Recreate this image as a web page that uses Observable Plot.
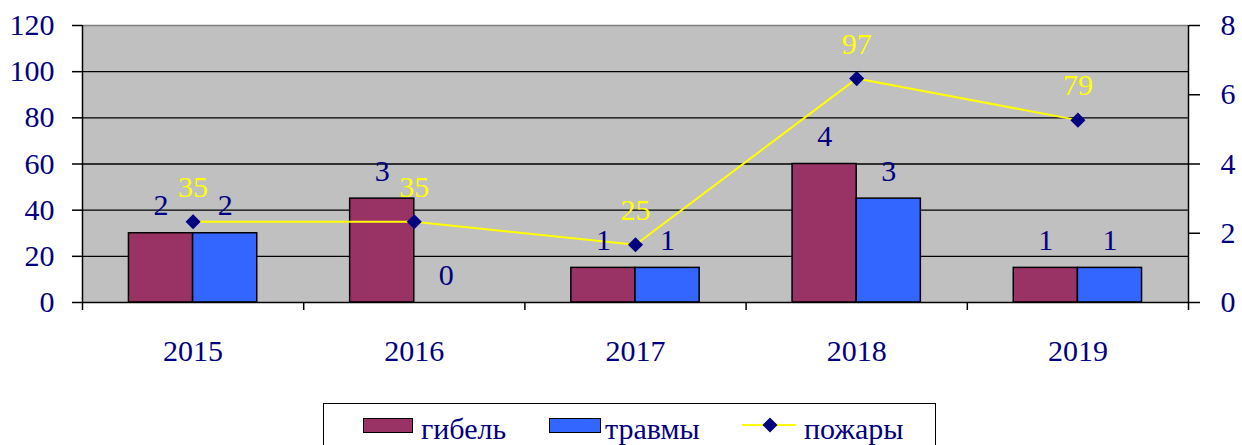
<!DOCTYPE html>
<html>
<head>
<meta charset="utf-8">
<script src="https://cdn.jsdelivr.net/npm/d3@7"></script>
<script src="https://cdn.jsdelivr.net/npm/@observablehq/plot@0.6"></script>
<style>
  html, body { margin: 0; padding: 0; background: #fff; }
  #wrap { position: relative; width: 1242px; height: 445px; overflow: hidden; font-family: "Liberation Serif", "DejaVu Serif", "Times New Roman", serif; }
  #wrap svg text { font-family: "Liberation Serif", "DejaVu Serif", "Times New Roman", serif; }
  #legend { position: absolute; left: 323px; top: 403px; width: 613px; height: 70px; border: 1px solid #000; box-sizing: border-box; }
  .sw { position: absolute; box-sizing: border-box; border: 1.5px solid #000; }
  .lt { position: absolute; font-size: 30px; line-height: 30px; color: #000080; white-space: nowrap; }
</style>
</head>
<body>
<div id="wrap"></div>
<script>
// ---- data ----
const years = ["2015", "2016", "2017", "2018", "2019"];
const deaths = [2, 3, 1, 4, 1];        // гибель (right axis)
const injuries = [2, 0, 1, 3, 1];      // травмы (right axis)
const fires = [35, 35, 25, 97, 79];    // пожары (left axis)
const leftTicks = [0, 20, 40, 60, 80, 100, 120];
const rightTicks = [0, 2, 4, 6, 8];
const seriesNames = ["гибель", "травмы", "пожары"];
const seriesColors = ["#993366", "#3366FF", "#FFFF00"];

// right-axis values are drawn on the shared y scale (0–120 ≙ 0–8)
const K = 120 / 8;
const NAVY = "#000080";
const FONT = "'Liberation Serif', 'DejaVu Serif', 'Times New Roman', serif";

const deathRows = years.map((y, i) => ({i, v: deaths[i]}));
const injuryRows = years.map((y, i) => ({i, v: injuries[i]}));
const fireRows = years.map((y, i) => ({i, v: fires[i]}));

const chart = Plot.plot({
  width: 1242,
  height: 400,
  marginTop: 25,
  marginLeft: 82,
  marginRight: 54,
  marginBottom: 98,
  style: {fontFamily: FONT, fontSize: "30px", background: "transparent", overflow: "visible"},
  x: {type: "linear", domain: [0, years.length], axis: null},
  y: {domain: [0, 120], axis: null},
  marks: [
    Plot.frame({fill: "#C0C0C0", stroke: "none"}),
    Plot.ruleY(leftTicks.filter(t => t > 0 && t < 120), {stroke: "#000", strokeWidth: 1.3}),
    Plot.ruleY([120], {stroke: "#808080", strokeWidth: 1.3}),
    // bars
    Plot.rectY(deathRows, {x1: d => d.i + 0.21, x2: d => d.i + 0.5, y1: 0, y2: d => d.v * K,
      fill: seriesColors[0], stroke: "#000", strokeWidth: 1.5}),
    Plot.rectY(injuryRows.filter(d => d.v > 0), {x1: d => d.i + 0.5, x2: d => d.i + 0.79, y1: 0, y2: d => d.v * K,
      fill: seriesColors[1], stroke: "#000", strokeWidth: 1.5}),
    // line
    Plot.line(fireRows, {x: d => d.i + 0.5, y: "v", stroke: seriesColors[2], strokeWidth: 2}),
    Plot.dot(fireRows, {x: d => d.i + 0.5, y: "v", symbol: "diamond2", r: 6.8, fill: NAVY, stroke: "none"}),
    // axis lines
    Plot.ruleY([0], {stroke: "#000", strokeWidth: 1.5}),
    Plot.ruleX([0], {stroke: "#000", strokeWidth: 1.5}),
    Plot.ruleX([years.length], {stroke: "#000", strokeWidth: 1.5}),
    // labels
    Plot.text(deathRows, {x: d => d.i + 0.355, y: d => d.v * K, text: d => String(d.v), dy: -18,
      lineAnchor: "bottom", fill: NAVY, fontSize: 30}),
    Plot.text(injuryRows, {x: d => d.i + 0.645, y: d => d.v * K, text: d => String(d.v), dy: -18,
      lineAnchor: "bottom", fill: NAVY, fontSize: 30}),
    Plot.text(fireRows, {x: d => d.i + 0.5, y: "v", text: d => String(d.v), dy: -25,
      lineAnchor: "bottom", fill: seriesColors[2], fontSize: 30}),
    // axes
    Plot.axisY(leftTicks, {anchor: "left", label: null, tickSize: 10, tickPadding: 18, stroke: "#000", strokeWidth: 1.5,
      fill: NAVY, fontSize: 30}),
    Plot.axisY(rightTicks.map(v => v * K), {anchor: "right", label: null, tickSize: 11, tickPadding: 21, stroke: "#000", strokeWidth: 1.5,
      fill: NAVY, fontSize: 30, tickFormat: d => String(d / K)}),
    Plot.axisX(d3.range(years.length + 1), {anchor: "bottom", label: null, tickSize: 8, stroke: "#000", strokeWidth: 1.5,
      tickFormat: () => ""}),
    Plot.axisX(years.map((y, i) => i + 0.5), {anchor: "bottom", label: null, tickSize: 0, tickPadding: 37,
      fill: NAVY, fontSize: 30, tickFormat: d => years[Math.floor(d)]})
  ]
});

const wrap = document.getElementById("wrap");
wrap.appendChild(chart);

// legend
const legend = document.createElement("div");
legend.id = "legend";
wrap.appendChild(legend);
function abs(el, css) { Object.assign(el.style, css); wrap.appendChild(el); return el; }
const sw1 = document.createElement("div"); sw1.className = "sw";
abs(sw1, {left: "363px", top: "418px", width: "50px", height: "15px", background: seriesColors[0]});
const t1 = document.createElement("div"); t1.className = "lt"; t1.textContent = seriesNames[0];
abs(t1, {left: "421px", top: "414px"});
const sw2 = document.createElement("div"); sw2.className = "sw";
abs(sw2, {left: "549px", top: "418px", width: "52px", height: "15px", background: seriesColors[1]});
const t2 = document.createElement("div"); t2.className = "lt"; t2.textContent = seriesNames[1];
abs(t2, {left: "605px", top: "414px"});
const ls = document.createElementNS("http://www.w3.org/2000/svg", "svg");
ls.setAttribute("width", "56"); ls.setAttribute("height", "20");
ls.innerHTML = `<line x1="0" y1="10" x2="54" y2="10" stroke="${seriesColors[2]}" stroke-width="2"/>
  <path d="M28,2.5L35.5,10L28,17.5L20.5,10Z" fill="${NAVY}"/>`;
abs(ls, {position: "absolute", left: "742px", top: "415px"});
const t3 = document.createElement("div"); t3.className = "lt"; t3.textContent = seriesNames[2];
abs(t3, {left: "804px", top: "414px"});
</script>
</body>
</html>
